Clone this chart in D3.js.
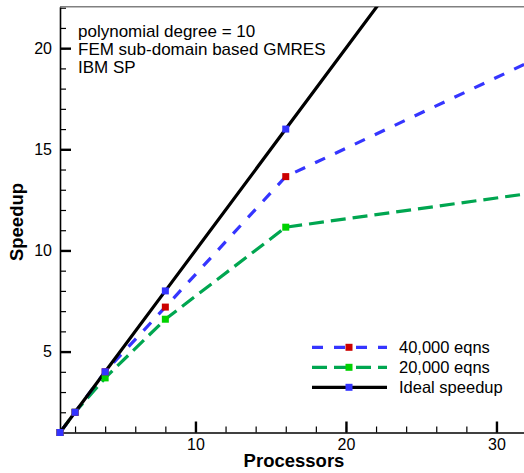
<!DOCTYPE html>
<html>
<head>
<meta charset="utf-8">
<script src="https://cdn.jsdelivr.net/npm/d3@7"></script>
<style>
  body { margin: 0; background: #fff; }
  text { font-family: "Liberation Sans", Arial, sans-serif; }
</style>
</head>
<body>
<div id="chart"></div>
<script>
// processors and measured speedup
var procs = [1, 2, 4, 8, 16, 32];
var ideal = [1, 2, 4, 8, 16, 32];
var eqns40k = [1, 2, 4, 7.2, 13.65, 19.25];
var eqns20k = [1, 2, 3.7, 6.6, 11.15, 12.8];
var xTicks = [10, 20, 30];
var yTicks = [5, 10, 15, 20];
var notes = ["polynomial degree = 10", "FEM sub-domain based GMRES", "IBM SP"];

var width = 524, height = 473;
var plotLeft = 60, plotRight = 524, plotTop = 6.7, plotBottom = 432.5;

var svg = d3.select("#chart").append("svg")
  .attr("width", width)
  .attr("height", height);

var x = d3.scaleLinear().domain([1, 31.83]).range([plotLeft, plotRight]);
var y = d3.scaleLinear().domain([1, 22.05]).range([plotBottom, plotTop]);

svg.append("clipPath").attr("id", "plot")
  .append("rect")
  .attr("x", plotLeft).attr("y", plotTop)
  .attr("width", plotRight - plotLeft).attr("height", plotBottom - plotTop);

// minor ticks
svg.append("g")
  .attr("transform", "translate(" + plotLeft + ",0)")
  .call(d3.axisLeft(y).tickValues(d3.range(2, 23)).tickSizeInner(-6).tickSizeOuter(0).tickFormat(""))
  .call(function(g) { g.select(".domain").remove(); g.selectAll("line").attr("stroke-width", 1.2); });
svg.append("g")
  .attr("transform", "translate(0," + plotBottom + ")")
  .call(d3.axisBottom(x).tickValues(d3.range(2, 32, 2)).tickSizeInner(-6).tickSizeOuter(0).tickFormat(""))
  .call(function(g) { g.select(".domain").remove(); g.selectAll("line").attr("stroke-width", 1.2); });

// major ticks and labels
svg.append("g")
  .attr("transform", "translate(" + plotLeft + ",0)")
  .call(d3.axisLeft(y).tickValues(yTicks).tickSizeInner(-11).tickSizeOuter(0).tickPadding(8))
  .call(function(g) {
    g.select(".domain").attr("stroke-width", 1.6);
    g.selectAll("line").attr("stroke-width", 2.4);
    g.selectAll("text").style("font-size", "16px").attr("fill", "#000")
      .style("font-family", "'Liberation Sans', Arial, sans-serif");
  });
svg.append("g")
  .attr("transform", "translate(0," + plotBottom + ")")
  .call(d3.axisBottom(x).tickValues(xTicks).tickSizeInner(-11).tickSizeOuter(0).tickPadding(6))
  .call(function(g) {
    g.select(".domain").attr("stroke-width", 1.6);
    g.selectAll("line").attr("stroke-width", 2.4);
    g.selectAll("text").style("font-size", "16px").attr("fill", "#000")
      .style("font-family", "'Liberation Sans', Arial, sans-serif");
  });

// top frame
svg.append("line")
  .attr("x1", plotLeft).attr("x2", plotRight)
  .attr("y1", plotTop).attr("y2", plotTop)
  .attr("stroke", "#808080").attr("stroke-width", 1.6);

var line = d3.line()
  .x(function(d) { return x(d[0]); })
  .y(function(d) { return y(d[1]); });

function pairs(vals) {
  return procs.map(function(p, i) { return [p, vals[i]]; });
}

var series = [
  { vals: eqns20k, color: "#00a650", dash: "15,7", marker: "#00d200", label: "20,000 eqns" },
  { vals: eqns40k, color: "#3535ff", dash: "11,11", marker: "#cc0000", label: "40,000 eqns" },
  { vals: ideal, color: "#000", dash: null, marker: "#3333ff", label: "Ideal speedup" }
];

var plot = svg.append("g").attr("clip-path", "url(#plot)");
series.forEach(function(s) {
  plot.append("path")
    .datum(pairs(s.vals))
    .attr("d", line)
    .attr("fill", "none")
    .attr("stroke", s.color)
    .attr("stroke-width", 3.2)
    .attr("stroke-dasharray", s.dash);
});

var ms = 7;
series.forEach(function(s) {
  svg.append("g").selectAll("rect")
    .data(pairs(s.vals).filter(function(d) { return d[0] < 31.83; }))
    .join("rect")
    .attr("x", function(d) { return x(d[0]) - ms / 2; })
    .attr("y", function(d) { return y(d[1]) - ms / 2; })
    .attr("width", ms).attr("height", ms)
    .attr("fill", s.marker);
});

// notes
svg.append("g").selectAll("text")
  .data(notes)
  .join("text")
  .attr("x", 78)
  .attr("y", function(d, i) { return 37 + i * 18; })
  .style("font-size", "17px")
  .text(function(d) { return d; });

// legend
var legendOrder = [series[1], series[0], series[2]];
var lg = svg.append("g");
legendOrder.forEach(function(s, i) {
  var ly = 347.3 + i * 20;
  lg.append("line")
    .attr("x1", 312).attr("x2", 387)
    .attr("y1", ly).attr("y2", ly)
    .attr("stroke", s.color).attr("stroke-width", 3.2)
    .attr("stroke-dasharray", s.dash);
  lg.append("rect")
    .attr("x", 349 - ms / 2).attr("y", ly - ms / 2)
    .attr("width", ms).attr("height", ms)
    .attr("fill", s.marker);
  lg.append("text")
    .attr("x", 399).attr("y", ly + 6)
    .style("font-size", "16.5px")
    .text(s.label);
});

// axis titles
svg.append("text")
  .attr("x", 294).attr("y", 467)
  .attr("text-anchor", "middle")
  .style("font-size", "18.5px").style("font-weight", "bold")
  .text("Processors");
svg.append("text")
  .attr("transform", "translate(23,222) rotate(-90)")
  .attr("text-anchor", "middle")
  .style("font-size", "18.5px").style("font-weight", "bold")
  .text("Speedup");
</script>
</body>
</html>
